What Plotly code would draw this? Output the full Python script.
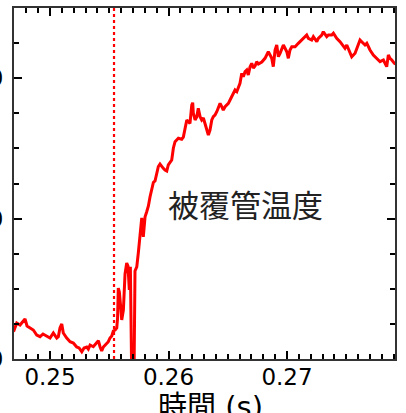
import plotly.graph_objects as go

# time (s)
time_s = [0.24692, 0.24719, 0.24747, 0.24775, 0.24789, 0.24806, 0.24831, 0.24859, 0.24888, 0.24916,
          0.24941, 0.24958, 0.24983, 0.25000, 0.25028, 0.25057, 0.25070, 0.25084, 0.25099, 0.25112,
          0.25141, 0.25169, 0.25197, 0.25225, 0.25245, 0.25268, 0.25287, 0.25310, 0.25323, 0.25338,
          0.25365, 0.25394, 0.25408, 0.25422, 0.25436, 0.25450, 0.25478, 0.25492, 0.25506, 0.25521,
          0.25534, 0.25549, 0.25563, 0.25570, 0.25576, 0.25585, 0.25595, 0.25605, 0.25619, 0.25633,
          0.25647, 0.25658, 0.25669, 0.25678, 0.25689, 0.25709, 0.25717, 0.25732, 0.25745, 0.25759,
          0.25774, 0.25787, 0.25802, 0.25816, 0.25830, 0.25844, 0.25858, 0.25872, 0.25886, 0.25900,
          0.25914, 0.25928, 0.25943, 0.25956, 0.25970, 0.25985, 0.25998, 0.26013, 0.26027, 0.26041,
          0.26055, 0.26083, 0.26111, 0.26125, 0.26139, 0.26154, 0.26167, 0.26181, 0.26196, 0.26204,
          0.26209, 0.26224, 0.26238, 0.26251, 0.26266, 0.26280, 0.26294, 0.26308, 0.26322, 0.26336,
          0.26350, 0.26365, 0.26378, 0.26392, 0.26407, 0.26420, 0.26435, 0.26449, 0.26462, 0.26477,
          0.26505, 0.26519, 0.26533, 0.26547, 0.26561, 0.26576, 0.26589, 0.26603, 0.26618, 0.26631,
          0.26646, 0.26660, 0.26673, 0.26688, 0.26702, 0.26716, 0.26730, 0.26744, 0.26758, 0.26787,
          0.26814, 0.26842, 0.26857, 0.26871, 0.26884, 0.26899, 0.26913, 0.26927, 0.26941, 0.26955,
          0.26969, 0.26983, 0.26998, 0.27011, 0.27025, 0.27040, 0.27068, 0.27095, 0.27124, 0.27152,
          0.27166, 0.27180, 0.27208, 0.27222, 0.27251, 0.27264, 0.27293, 0.27306, 0.27321, 0.27335,
          0.27349, 0.27377, 0.27391, 0.27419, 0.27447, 0.27475, 0.27489, 0.27504, 0.27532, 0.27546,
          0.27574, 0.27602, 0.27616, 0.27630, 0.27658, 0.27673, 0.27700, 0.27728, 0.27757, 0.27785,
          0.27813, 0.27841, 0.27855, 0.27869, 0.27884, 0.27906, 0.27920]

# cladding temperature
cladding_temp = [38.9, 51.3, 48.4, 54.1, 57.0, 47.0, 44.2, 41.3, 34.2, 31.8,
                 35.6, 34.2, 31.3, 29.9, 37.0, 29.9, 31.8, 44.2, 49.9, 37.0,
                 29.9, 24.6, 22.8, 17.1, 15.7, 10.4, 15.7, 17.1, 14.2, 19.9,
                 17.5, 22.8, 26.1, 17.5, 11.4, 17.1, 23.2, 24.6, 29.9, 32.8,
                 39.9, 41.3, 44.2, 58.4, 101.1, 95.4, 76.9, 55.6, 69.8, 121.1,
                 136.8, 132.5, 98.3, 131.5, -20.0, -20.0, 125.4, 131.1, 151.0, 173.1,
                 200.9, 173.8, 202.7, 209.8, 217.9, 231.2, 240.7, 251.4, 253.6, 262.1,
                 274.2, 277.8, 273.5, 271.6, 269.2, 267.8, 276.4, 280.6, 283.5, 300.6,
                 309.5, 314.4, 313.0, 316.2, 328.6, 340.5, 338.0, 335.7, 361.8, 365.1,
                 350.4, 340.5, 344.7, 357.1, 345.2, 340.5, 343.3, 335.7, 328.6, 319.1,
                 326.2, 340.5, 345.2, 347.6, 352.3, 357.1, 364.2, 359.4, 354.7, 359.4,
                 364.2, 368.9, 373.6, 378.5, 383.2, 380.8, 387.9, 392.7, 407.0, 402.1,
                 409.3, 411.7, 404.6, 416.4, 421.2, 414.5, 417.4, 423.5, 420.2, 423.1,
                 428.3, 437.7, 433.0, 428.3, 416.4, 440.2, 447.3, 430.6, 435.5, 442.6,
                 447.3, 442.6, 437.7, 428.3, 440.2, 444.9, 444.9, 449.7, 454.4, 459.1,
                 461.5, 456.8, 454.4, 459.1, 452.0, 456.8, 461.5, 466.2, 461.5, 459.1,
                 461.5, 461.5, 464.0, 456.8, 452.0, 444.9, 442.6, 447.3, 437.7, 430.6,
                 435.5, 447.3, 454.4, 452.0, 447.3, 449.7, 440.2, 433.0, 428.3, 423.5,
                 425.9, 416.4, 433.0, 428.3, 425.9, 421.2, 420.0]

event_time = 0.2554
x_range = [0.24696, 0.27911]
y_range = [0, 500]
x_tickvals = [0.25, 0.26, 0.27]
x_ticktext = ["0.25", "0.26", "0.27"]
x_title = "時間 (s)"
label_text = "被覆管温度"
label_pos = (0.26650, 221)

tick_font = dict(family="DejaVu Sans", size=23, color="#000000")
axis_color = "#333333"

fig = go.Figure()
fig.add_trace(go.Scatter(x=time_s, y=cladding_temp, mode="lines",
                         line=dict(color="#ff0000", width=3), showlegend=False,
                         cliponaxis=True))

fig.add_shape(type="line", x0=event_time, x1=event_time, xref="x", y0=0, y1=1, yref="paper",
              line=dict(color="#ff0000", width=2.2, dash="3px,3px"), layer="above")

fig.add_annotation(x=label_pos[0], y=label_pos[1], xref="x", yref="y", text=label_text,
                   showarrow=False, font=dict(family="Noto Sans CJK JP", size=31, color="#222222"))

fig.add_annotation(x=0.515, y=-0.083, xref="paper", yref="paper", text=x_title,
                   showarrow=False, xanchor="center", yanchor="top",
                   font=dict(family="DejaVu Sans, Noto Sans CJK JP", size=29, color="#000000"))

fig.update_xaxes(range=x_range, tickmode="array", tickvals=x_tickvals, ticktext=x_ticktext,
                 ticks="inside", ticklen=8, tickwidth=1.5, tickcolor="#000000",
                 minor=dict(dtick=0.001, tick0=0.25, ticks="inside", ticklen=5, tickwidth=1.5, tickcolor="#000000"),
                 showline=True, linecolor=axis_color, linewidth=2, mirror="allticks",
                 showgrid=False, zeroline=False, tickfont=tick_font, ticklabelstandoff=-4,
                 automargin=False)
fig.update_yaxes(range=y_range, tick0=0, dtick=200,
                 ticks="inside", ticklen=8, tickwidth=1.5, tickcolor="#000000",
                 minor=dict(dtick=50, tick0=0, ticks="inside", ticklen=5, tickwidth=1.5, tickcolor="#000000"),
                 showline=True, linecolor=axis_color, linewidth=2, mirror="allticks",
                 showgrid=False, zeroline=False, tickfont=tick_font, ticklabelstandoff=4,
                 automargin=False)

fig.update_layout(width=406, height=413, margin=dict(l=14, r=11, t=8, b=54, autoexpand=False),
                  plot_bgcolor="white", paper_bgcolor="white", showlegend=False)

fig.write_html("out.html", config={"displayModeBar": False},
               post_script="document.body.style.margin='0';")
